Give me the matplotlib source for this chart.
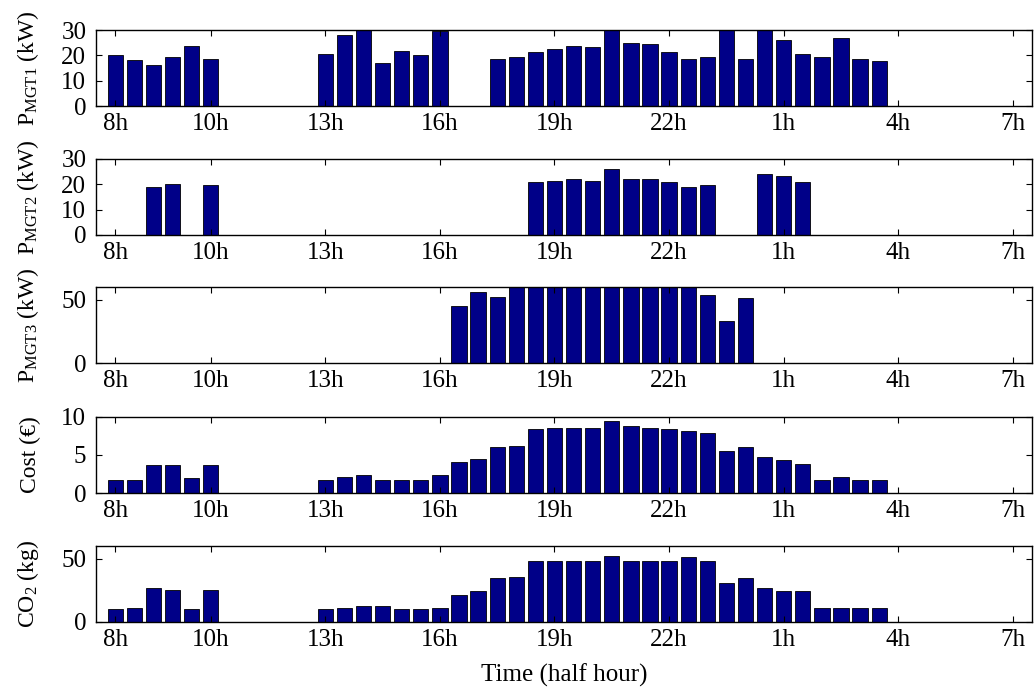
import numpy as np
import matplotlib
matplotlib.use("Agg")
import matplotlib.pyplot as plt

plt.rcParams['font.family'] = ['Liberation Serif', 'DejaVu Serif']
plt.rcParams['mathtext.fontset'] = 'custom'
plt.rcParams['mathtext.rm'] = 'Liberation Serif'
plt.rcParams['mathtext.it'] = 'Liberation Serif:italic'

# half-hour slots 1..48 starting at 8h
slots = np.arange(1, 49)
tick_slots = [1, 6, 12, 18, 24, 30, 36, 42, 48]
tick_labels = ['8h', '10h', '13h', '16h', '19h', '22h', '1h', '4h', '7h']

p_mgt1 = [20.0, 18.1, 16.3, 19.5, 23.8, 18.7,
          0, 0, 0, 0, 0,
          20.6, 28.1, 30, 16.9, 21.8, 20.0, 29.5,
          0, 0,
          18.7, 19.5, 21.2, 22.6, 23.8, 23.1, 30, 25.0, 24.4, 21.2, 18.7,
          19.5, 30, 18.7, 30, 26.2, 20.6, 19.5, 26.9, 18.7, 17.6,
          0, 0, 0, 0, 0, 0, 0]
p_mgt2 = [0, 0, 19.0, 20.1, 0, 19.6,
          0, 0, 0, 0, 0, 0, 0, 0, 0, 0, 0, 0, 0, 0, 0, 0,
          20.9, 21.4, 22.0, 21.4, 25.9, 22.0, 22.0, 20.9, 19.0, 19.6,
          0, 0, 24.0, 23.3, 20.9,
          0, 0, 0, 0, 0, 0, 0, 0, 0, 0, 0]
p_mgt3 = [0] * 18 + [44.8, 56.5, 52.5] + [60] * 10 + [53.8, 33.3, 51.2] + [0] * 14
cost = [1.68, 1.68, 3.63, 3.63, 1.95, 3.63,
        0, 0, 0, 0, 0,
        1.68, 2.12, 2.35, 1.68, 1.68, 1.68, 2.35, 4.07, 4.51, 6.02, 6.19,
        8.36, 8.58, 8.58, 8.58, 9.42, 8.75, 8.58, 8.36, 8.18, 7.92, 5.53,
        6.02, 4.73, 4.29, 3.85, 1.68, 2.12, 1.68, 1.68,
        0, 0, 0, 0, 0, 0, 0]
co2 = [10.1, 11.4, 26.7, 25.4, 10.1, 25.4,
       0, 0, 0, 0, 0,
       10.1, 11.4, 12.7, 12.7, 10.1, 10.1, 11.4, 21.4, 24.3, 34.4, 35.7,
       48.3, 48.3, 48.3, 48.3, 52.3, 48.3, 48.3, 48.3, 51.0, 48.3, 30.7,
       34.4, 26.7, 24.3, 24.3, 11.4, 11.4, 11.4, 11.4,
       0, 0, 0, 0, 0, 0, 0]

panels = [
    (p_mgt1, r'P$_{\mathrm{MGT1}}$ (kW)', 30, [0, 10, 20, 30]),
    (p_mgt2, r'P$_{\mathrm{MGT2}}$ (kW)', 30, [0, 10, 20, 30]),
    (p_mgt3, r'P$_{\mathrm{MGT3}}$ (kW)', 60, [0, 50]),
    (cost, 'Cost (€)', 10, [0, 5, 10]),
    (co2, r'CO$_2$ (kg)', 60, [0, 50]),
]

fig = plt.figure(figsize=(10.35, 6.93), dpi=100)
left, width, height = 0.0928, 0.9043, 0.1097
bottoms = [0.847, 0.661, 0.476, 0.2886, 0.1025]

for (vals, label, ymax, yt), b in zip(panels, bottoms):
    ax = fig.add_axes([left, b, width, height])
    ax.bar(slots, vals, width=0.8, color='#000088', edgecolor='black', linewidth=0.6)
    ax.set_xlim(0, 49)
    ax.set_ylim(0, ymax)
    ax.set_yticks(yt)
    ax.set_xticks(tick_slots)
    ax.set_xticklabels(tick_labels)
    ax.tick_params(direction='in', top=True, right=True, length=4, labelsize=18)
    ax.tick_params(axis='x', pad=5)
    ax.tick_params(axis='y', pad=7)
    ax.set_ylabel(label, fontsize=17)
    ax.yaxis.set_label_coords(-0.059, 0.5)
    for s in ax.spines.values():
        s.set_linewidth(1.0)

ax.set_xlabel('Time (half hour)', fontsize=18, labelpad=9)

fig.savefig('out.png', dpi=100)
